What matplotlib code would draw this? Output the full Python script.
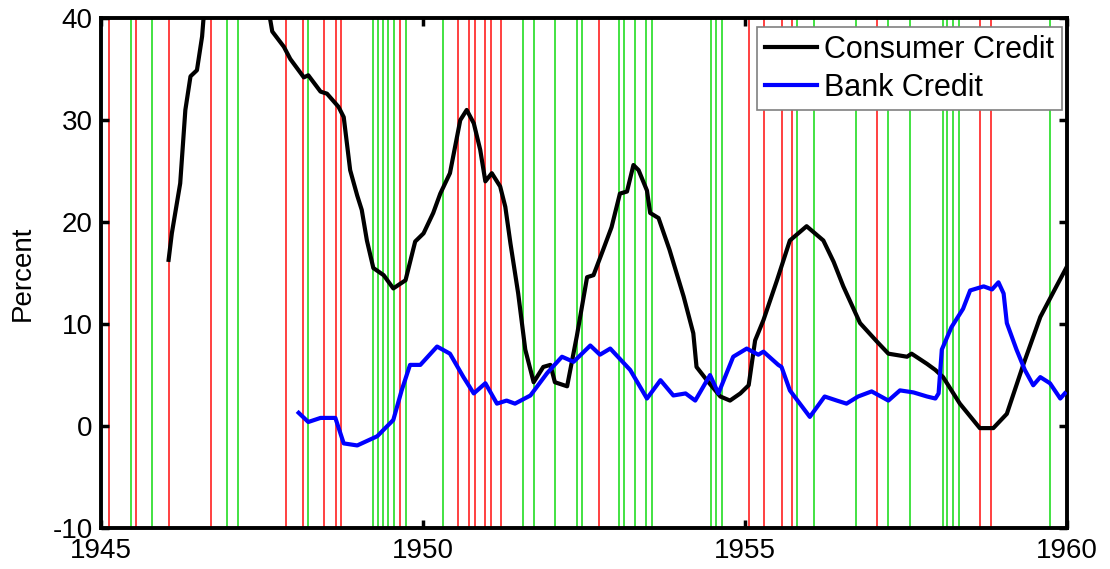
import matplotlib
matplotlib.use("Agg")
import matplotlib.pyplot as plt

# Vertical event lines (years)
red_lines = [1945.12, 1945.54, 1946.05, 1946.71, 1947.88, 1948.14, 1948.47, 1948.65,
             1948.72, 1949.65, 1950.55, 1950.72, 1950.81, 1950.97, 1951.06, 1951.22,
             1952.73, 1955.06, 1955.30, 1955.57, 1955.73, 1957.06, 1958.65, 1958.82]
green_lines = [1945.47, 1945.79, 1946.96, 1947.13, 1948.21, 1949.22, 1949.30, 1949.38,
               1949.45, 1949.55, 1949.73, 1950.31, 1951.56, 1951.73, 1952.05, 1952.39,
               1952.47, 1953.05, 1953.13, 1953.30, 1953.47, 1953.56, 1954.48, 1954.56,
               1954.65, 1955.81, 1956.07, 1956.73, 1957.23, 1957.57, 1958.08, 1958.14,
               1958.23, 1958.32, 1959.74]

# Consumer credit growth (percent)
cc_years = [1946.05, 1946.10, 1946.23, 1946.31, 1946.39, 1946.49, 1946.57, 1946.59,
            1946.80, 1947.10, 1947.40, 1947.63, 1947.66, 1947.84, 1947.94, 1948.15,
            1948.22, 1948.41, 1948.51, 1948.69, 1948.77, 1948.87, 1948.98, 1949.05,
            1949.13, 1949.23, 1949.39, 1949.54, 1949.73, 1949.88, 1950.01, 1950.16,
            1950.27, 1950.42, 1950.58, 1950.68, 1950.79, 1950.89, 1950.97, 1951.07,
            1951.20, 1951.28, 1951.36, 1951.48, 1951.59, 1951.72, 1951.87, 1951.98,
            1952.05, 1952.24, 1952.39, 1952.55, 1952.65, 1952.80, 1952.93, 1953.06,
            1953.17, 1953.27, 1953.35, 1953.48, 1953.53, 1953.66, 1953.83, 1954.05,
            1954.20, 1954.25, 1954.41, 1954.62, 1954.77, 1954.93, 1955.06, 1955.16,
            1955.29, 1955.50, 1955.70, 1955.96, 1956.22, 1956.38, 1956.53, 1956.79,
            1957.05, 1957.23, 1957.52, 1957.59, 1957.83, 1957.96, 1958.08, 1958.34,
            1958.65, 1958.86, 1959.07, 1959.33, 1959.59, 1959.84, 1960.00]
cc_values = [16.3, 18.9, 23.8, 31.0, 34.3, 34.9, 38.2, 39.8,
             46.0, 50.0, 46.0, 39.8, 38.7, 37.2, 36.0, 34.2,
             34.4, 32.8, 32.6, 31.3, 30.3, 25.1, 22.6, 21.2,
             18.2, 15.5, 14.8, 13.5, 14.3, 18.1, 18.9, 20.9,
             22.8, 24.8, 30.0, 31.0, 29.7, 27.1, 24.0, 24.8,
             23.5, 21.5, 17.9, 13.0, 7.5, 4.3, 5.8, 6.0,
             4.3, 3.9, 8.8, 14.6, 14.8, 17.3, 19.5, 22.8,
             23.0, 25.6, 25.1, 23.1, 20.9, 20.4, 17.3, 12.7,
             9.1, 5.8, 4.5, 2.9, 2.5, 3.2, 4.0, 8.4,
             10.4, 14.3, 18.2, 19.6, 18.2, 16.1, 13.7, 10.1,
             8.3, 7.1, 6.8, 7.1, 6.1, 5.5, 4.8, 2.2,
             -0.2, -0.2, 1.2, 6.1, 10.7, 13.7, 15.6]

# Bank credit growth (percent)
bc_years = [1948.07, 1948.22, 1948.41, 1948.64, 1948.77, 1948.98, 1949.29, 1949.54,
            1949.67, 1949.80, 1949.96, 1950.22, 1950.42, 1950.63, 1950.79, 1950.97,
            1951.15, 1951.30, 1951.43, 1951.67, 1951.93, 1952.16, 1952.34, 1952.60,
            1952.75, 1952.91, 1953.22, 1953.48, 1953.69, 1953.89, 1954.08, 1954.23,
            1954.46, 1954.59, 1954.82, 1955.03, 1955.21, 1955.29, 1955.52, 1955.57,
            1955.70, 1956.01, 1956.24, 1956.43, 1956.58, 1956.76, 1956.97, 1957.23,
            1957.41, 1957.62, 1957.83, 1957.96, 1958.01, 1958.06, 1958.21, 1958.39,
            1958.50, 1958.71, 1958.84, 1958.94, 1959.02, 1959.07, 1959.22, 1959.35,
            1959.48, 1959.59, 1959.74, 1959.90, 1959.97]
bc_values = [1.3, 0.4, 0.8, 0.8, -1.7, -1.9, -1.0, 0.6,
             3.5, 6.0, 6.0, 7.8, 7.1, 4.8, 3.2, 4.2,
             2.2, 2.5, 2.2, 3.0, 5.2, 6.8, 6.3, 7.9,
             7.0, 7.6, 5.5, 2.7, 4.5, 3.0, 3.2, 2.5,
             5.0, 3.2, 6.8, 7.6, 7.0, 7.3, 6.0, 5.8,
             3.5, 0.9, 2.9, 2.5, 2.2, 2.9, 3.4, 2.5,
             3.5, 3.3, 2.9, 2.7, 3.2, 7.5, 9.7, 11.5,
             13.3, 13.7, 13.4, 14.1, 13.0, 10.1, 7.5, 5.5,
             4.0, 4.8, 4.2, 2.7, 3.2]

x_ticks = [1945, 1950, 1955, 1960]
y_ticks = [-10, 0, 10, 20, 30, 40]

plt.rcParams['font.family'] = ['Liberation Sans', 'DejaVu Sans']
plt.rcParams['axes.unicode_minus'] = False

fig = plt.figure(figsize=(11.1, 5.69), dpi=100)
ax = fig.add_axes([0.091, 0.072, 0.870, 0.896])

for x in red_lines:
    ax.axvline(x, color='#ff2020', lw=1.2, zorder=1)
for x in green_lines:
    ax.axvline(x, color='#22dd22', lw=1.2, zorder=1)

ax.plot(cc_years, cc_values, color='black', lw=3.0, label='Consumer Credit', zorder=3)
ax.plot(bc_years, bc_values, color='#0000ff', lw=3.0, label='Bank Credit', zorder=3)

ax.set_xlim(1945, 1960)
ax.set_ylim(-10, 40)
ax.set_xticks(x_ticks)
ax.set_yticks(y_ticks)
ax.tick_params(direction='in', length=6, width=2.5, labelsize=20,
               top=True, right=True)
ax.tick_params(axis='y', pad=6)
ax.tick_params(axis='x', pad=7)
for s in ax.spines.values():
    s.set_linewidth(2.8)
ax.set_ylabel('Percent', fontsize=20)
ax.yaxis.set_label_coords(-0.068, 0.5)

leg = ax.legend(loc='upper right', bbox_to_anchor=(0.995, 0.982), borderaxespad=0,
                fontsize=22, frameon=True, fancybox=False,
                handlelength=1.7, borderpad=0.25, labelspacing=0.25,
                handletextpad=0.25)
leg.get_frame().set_edgecolor('#808080')
leg.get_frame().set_linewidth(1.2)
leg.get_frame().set_alpha(1.0)

fig.savefig('out.png', dpi=100)
